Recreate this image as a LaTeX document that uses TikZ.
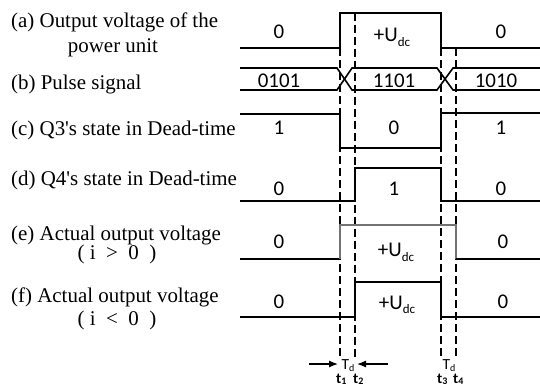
\documentclass[tikz,border=0pt]{standalone}
\usepackage{fontspec}
\setmainfont{Liberation Serif}
\newfontfamily\wavefont{Carlito}
\usetikzlibrary{arrows.meta}
\definecolor{egray}{gray}{0.45}
\tikzset{
  wave/.style={line width=1.6bp, black, line join=miter},
  gwave/.style={line width=1.6bp, egray, line join=miter},
  dline/.style={line width=1.1bp, black, dash pattern=on 8bp off 4bp},
  lbl/.style={font=\fontsize{21}{24}\selectfont, anchor=base west, inner sep=0pt},
  lblc/.style={font=\fontsize{21}{24}\selectfont, anchor=base, inner sep=0pt},
  val/.style={font=\wavefont\fontsize{21}{24}\selectfont, anchor=base, inner sep=0pt},
  tlab/.style={font=\wavefont\fontsize{15.5}{15.5}\selectfont, anchor=base, inner sep=0pt},
  tlabb/.style={font=\wavefont\bfseries\fontsize{15}{15}\selectfont, anchor=base west, inner sep=0pt},
  tdarrow/.style={line width=1.2bp, -{Latex[length=9bp,width=7bp]}}
}
\newcommand{\Udc}{+U\raisebox{-0.22em}{\fontsize{13}{13}\selectfont dc}}
\newcommand{\subsc}[1]{\raisebox{-0.12em}{\fontsize{10}{10}\selectfont #1}}
\begin{document}
\begin{tikzpicture}[x=1bp,y=-1bp]
\useasboundingbox[fill=white] (0,0) rectangle (540,387);

% ---- left labels ----
\node[lbl]  (la1) at (11,27.5) {(a) Output voltage of the};
\node[lblc] (la2) at (113,52) {power unit};
\node[lbl]  (lb)  at (11,89) {(b) Pulse signal};
\node[lbl]  (lc)  at (11,135) {(c) Q3\textquotesingle s state in Dead-time};
\node[lbl]  (ld)  at (11,185) {(d) Q4\textquotesingle s state in Dead-time};
\node[lbl]  (le1) at (11,240) {(e) Actual output voltage};
\node[lblc] (le2) at (117,259.5) {(~i~~>~~0~~)};
\node[lbl]  (lf1) at (11,302) {(f) Actual output voltage};
\node[lblc] (lf2) at (117,325.5) {(~i~~<~~0~~)};

% ---- time coordinates ----
\coordinate (t1a) at (340,48);  \coordinate (t1b) at (340,357);
\coordinate (t2a) at (355,13);  \coordinate (t2b) at (355,357);
\coordinate (t3a) at (441,48);  \coordinate (t3b) at (441,357);
\coordinate (t4a) at (456,48);  \coordinate (t4b) at (456,357);

% ---- dashed time markers ----
\draw[dline] (t1a) -- (t1b);
\draw[dline] (t2a) -- (t2b);
\draw[dline] (t3a) -- (t3b);
\draw[dline] (t4a) -- (t4b);

% ---- (a) output voltage of power unit ----
\draw[wave] (240,48) -- (340,48) -- (340,13) -- (441,13) -- (441,48) -- (540,48);
\node[val] (va1) at (279,38.5) {0};
\node[val] (va2) at (392,41.5) {\Udc};
\node[val] (va3) at (501,38.5) {0};

% ---- (b) pulse signal ----
\draw[wave] (240,68) -- (337,68) -- (352,90) -- (437,90) -- (453,68) -- (540,68);
\draw[wave] (240,90) -- (337,90) -- (352,68) -- (437,68) -- (453,90) -- (540,90);
\node[val] (vb1) at (279,87) {0101};
\node[val] (vb2) at (394,87) {1101};
\node[val] (vb3) at (496,87) {1010};

% ---- (c) Q3 ----
\draw[wave] (240,114) -- (340,114) -- (340,148) -- (441,148) -- (441,113) -- (540,113);
\node[val] (vc1) at (279,134) {1};
\node[val] (vc2) at (394,134) {0};
\node[val] (vc3) at (501,134) {1};

% ---- (d) Q4 ----
\draw[wave] (240,201) -- (355,201) -- (355,168) -- (441,168) -- (441,201) -- (540,201);
\node[val] (vd1) at (279,195) {0};
\node[val] (vd2) at (394,195) {1};
\node[val] (vd3) at (501,195) {0};

% ---- (e) actual output, i>0 ----
\draw[wave] (240,259) -- (340,259);
\draw[gwave] (340,259) -- (340,225) -- (456,225) -- (456,259);
\draw[wave] (456,259) -- (540,259);
\node[val] (ve1) at (279,248) {0};
\node[val] (ve2) at (396,256.5) {\Udc};
\node[val] (ve3) at (503,248) {0};

% ---- (f) actual output, i<0 ----
\draw[wave] (240,317) -- (355,317) -- (355,282) -- (441,282) -- (441,317) -- (540,317);
\node[val] (vf1) at (279,308) {0};
\node[val] (vf2) at (397,309) {\Udc};
\node[val] (vf3) at (503,308) {0};

% ---- dead-time annotations ----
\coordinate (arL) at (309,364); \coordinate (arLt) at (338,364);
\coordinate (arR) at (388,364); \coordinate (arRt) at (357,364);
\draw[tdarrow] (arL) -- (arLt);
\draw[tdarrow] (arR) -- (arRt);
\node[tlab] (td1) at (348,369.5) {T\subsc{d}};
\node[tlab] (td2) at (449,369.5) {T\subsc{d}};
\node[tlabb] (lt1) at (336,383) {t\subsc{1}};
\node[tlabb] (lt2) at (353,383) {t\subsc{2}};
\node[tlabb] (lt3) at (437,383) {t\subsc{3}};
\node[tlabb] (lt4) at (453,383) {t\subsc{4}};
\end{tikzpicture}
\end{document}
